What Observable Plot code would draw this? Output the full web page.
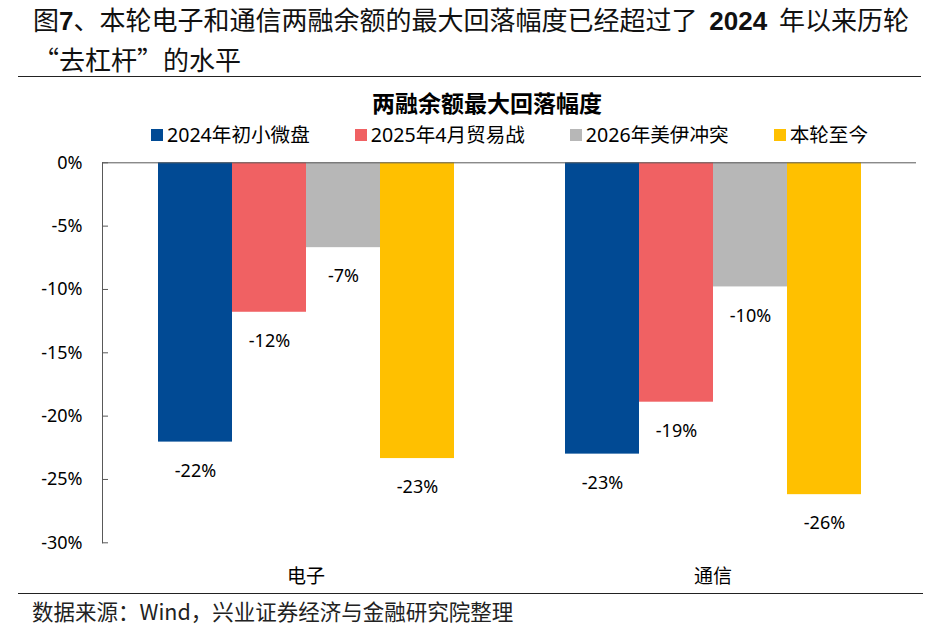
<!DOCTYPE html>
<html>
<head>
<meta charset="utf-8">
<script src="https://cdn.jsdelivr.net/npm/d3@7"></script>
<script src="https://cdn.jsdelivr.net/npm/@observablehq/plot@0.6"></script>
<style>
  body { margin: 0; background: #fff; }
  #wrap { position: relative; width: 936px; height: 628px; background: #fff; overflow: hidden;
          font-family: "Noto Sans CJK SC", "Noto Sans", sans-serif; color: #000; }
  .abs { position: absolute; white-space: nowrap; }
  #title { left: 33px; top: 0; font-size: 26px; line-height: 37px; color: #111; }
  #title b { font-family: "Liberation Sans", Arial, sans-serif; font-weight: bold; }
  #title b.sp { margin: 0 6px; }
  .rule { position: absolute; height: 0; border-top: 1.5px solid #222; }
  #ctitle { left: 0; width: 974px; text-align: center; top: 87px; font-size: 23px; line-height: 30px; font-weight: bold; }
  #legend { left: 151px; top: 123px; display: flex; align-items: center; font-family: "Noto Sans", "Noto Sans CJK SC", sans-serif; font-size: 19.6px; line-height: 24px; }
  .item { display: flex; align-items: center; margin-right: 45px; }
  .sw { width: 12px; height: 12px; margin-right: 4px; }
  #plot { position: absolute; left: 0; top: 140px; }
  #source { left: 32px; top: 598px; font-size: 21.5px; line-height: 26px; color: #222; }
</style>
</head>
<body>
<div id="wrap">
  <div id="title" class="abs">图<b>7</b>、本轮电子和通信两融余额的最大回落幅度已经超过了 <b class="sp">2024</b> 年以来历轮<br>“去杠杆”的水平</div>
  <div class="rule" style="left:18px; width:903px; top:76px;"></div>
  <div id="ctitle" class="abs">两融余额最大回落幅度</div>
  <div id="legend" class="abs"></div>
  <div id="plot"></div>
  <div class="rule" style="left:18px; width:905px; top:593px;"></div>
  <div id="source" class="abs">数据来源：Wind，兴业证券经济与金融研究院整理</div>
</div>
<script>
const categories = ["电子", "通信"];
const series = ["2024年初小微盘", "2025年4月贸易战", "2026年美伊冲突", "本轮至今"];
const colors = ["#014A94", "#F06163", "#B7B7B7", "#FFC000"];
const electronics = [-22.05, -11.8, -6.7, -23.35];
const telecom = [-23.0, -18.9, -9.8, -26.2];
const yTicks = [0, -5, -10, -15, -20, -25, -30];

const values = { "电子": electronics, "通信": telecom };
const rows = categories.flatMap(c => series.map((s, i) => ({ category: c, series: s, value: values[c][i] })));

// legend
const legend = document.getElementById("legend");
series.forEach((s, i) => {
  const it = document.createElement("div");
  it.className = "item";
  if (i === series.length - 1) it.style.marginRight = "0";
  const sw = document.createElement("div");
  sw.className = "sw";
  sw.style.background = colors[i];
  const tx = document.createElement("span");
  tx.textContent = s;
  it.appendChild(sw); it.appendChild(tx);
  legend.appendChild(it);
});

const chart = Plot.plot({
  width: 936,
  height: 450,
  marginLeft: 102,
  marginRight: 20,
  marginTop: 22.3,
  marginBottom: 47.7,
  style: { fontFamily: '"Noto Sans", "Noto Sans CJK SC", sans-serif', fontSize: "18px", color: "#000", background: "transparent", overflow: "visible" },
  fx: { domain: categories, padding: 0, label: null },
  x: { domain: series, paddingInner: 0, paddingOuter: 0.75, axis: null },
  y: { domain: [-30, 0], label: null },
  color: { domain: series, range: colors },
  marks: [
    Plot.barY(rows, { fx: "category", x: "series", y: "value", fill: "series" }),
    Plot.text(rows, { fx: "category", x: "series", y: "value", text: d => Math.round(d.value) + "%", dy: 29, fontSize: 18, fill: "#000" }),
    Plot.ruleY([0], { stroke: "#595959", strokeWidth: 1 }),
    Plot.frame({ anchor: "left", facetAnchor: "left", stroke: "#595959" }),
    Plot.axisY(yTicks, { tickSize: -6, tickPadding: 26, tickFormat: d => d + "%", stroke: "#595959", fontSize: 18, label: null }),
    Plot.axisFx({ anchor: "bottom", tickSize: 0, tickPadding: 27, fontSize: 19, label: null, fontFamily: '"Noto Sans CJK SC", sans-serif' })
  ]
});
document.getElementById("plot").appendChild(chart);
</script>
</body>
</html>
